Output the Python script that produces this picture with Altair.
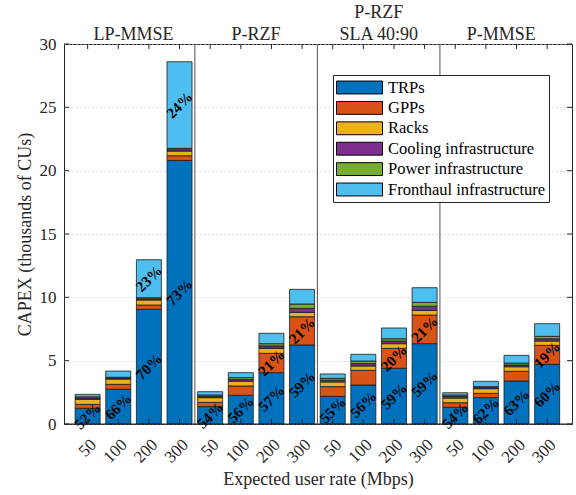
import altair as alt
import pandas as pd

groups_bottom = ["LP-MMSE", "P-RZF", "SLA 40:90", "P-MMSE"]
groups_top = ["P-RZF"]
group_centers = [2.5, 6.5, 10.5, 14.5]
group_top_centers = [10.5]
separators = [4.5, 8.5, 12.5]
rates = ["50", "100", "200", "300"]
components = ["TRPs", "GPPs", "Racks", "Cooling infrastructure",
              "Power infrastructure", "Fronthaul infrastructure"]
colors = ["#0072BD", "#D95319", "#EDB120", "#7E2F8E", "#77AC30", "#4DBEEE"]

# 16 bars: LP-MMSE 50..300, P-RZF 50..300, P-RZF SLA 50..300, P-MMSE 50..300
trps = [1.24, 2.74, 9.05, 20.80, 1.37, 2.26, 4.05, 6.24,
        2.18, 3.08, 4.40, 6.34, 1.32, 2.08, 3.39, 4.71]
gpps = [0.31, 0.39, 0.34, 0.38, 0.34, 0.74, 1.53, 2.23,
        0.77, 1.16, 1.57, 2.26, 0.36, 0.34, 0.77, 1.50]
racks = [0.40, 0.42, 0.40, 0.37, 0.37, 0.37, 0.39, 0.34,
         0.37, 0.34, 0.37, 0.37, 0.37, 0.37, 0.36, 0.34]
cooling = [0.10, 0.07, 0.09, 0.10, 0.10, 0.14, 0.19, 0.32,
           0.14, 0.19, 0.21, 0.32, 0.12, 0.08, 0.14, 0.18]
power = [0.10, 0.07, 0.09, 0.11, 0.11, 0.15, 0.18, 0.34,
         0.14, 0.20, 0.18, 0.31, 0.12, 0.08, 0.15, 0.19]
fronthaul = [0.19, 0.49, 3.00, 6.84, 0.26, 0.39, 0.82, 1.16,
             0.35, 0.53, 0.85, 1.16, 0.18, 0.42, 0.61, 1.00]

trp_pct = [52, 66, 70, 73, 54, 56, 57, 59, 55, 56, 59, 59, 54, 62, 63, 60]
gpp_pct_pos = [7, 8, 11, 12, 16]
gpp_pct = [21, 21, 20, 21, 19]
fh_pct_pos = [3, 4]
fh_pct = [23, 24]

series = [trps, gpps, racks, cooling, power, fronthaul]

rows = []
label_rows = []
for i in range(16):
    pos = i + 1
    start = 0.0
    mids = []
    for ci, comp in enumerate(components):
        v = series[ci][i]
        rows.append({"pos": pos, "component": comp, "order": ci,
                     "start": start, "end": start + v})
        mids.append(start + v / 2)
        start += v
    label_rows.append({"pos": pos, "start": mids[0], "txt": f"{trp_pct[i]}%"})
    if pos in gpp_pct_pos:
        label_rows.append({"pos": pos, "start": mids[1],
                           "txt": f"{gpp_pct[gpp_pct_pos.index(pos)]}%"})
    if pos in fh_pct_pos:
        label_rows.append({"pos": pos, "start": mids[5],
                           "txt": f"{fh_pct[fh_pct_pos.index(pos)]}%"})

df = pd.DataFrame(rows)
labels_df = pd.DataFrame(label_rows)
gb_df = pd.DataFrame({"g": groups_bottom, "pos": group_centers})
gt_df = pd.DataFrame({"g": groups_top, "pos": group_top_centers})
sep_df = pd.DataFrame({"pos": separators, "start": [0] * 3, "end": [30] * 3})
xticks_df = pd.DataFrame({"pos": list(range(1, 17))})
yticks_df = pd.DataFrame({"start": [0, 5, 10, 15, 20, 25, 30]})

FONT = "Liberation Serif"
AX = "#262626"
W, H = 508, 380

xscale = alt.Scale(domain=[0.392, 16.648], nice=False, zero=False)
yscale = alt.Scale(domain=[0, 30], nice=False)

label_expr = f"{rates}[(datum.value - 1) % 4]"

X = alt.X("pos:Q", scale=xscale,
          axis=alt.Axis(values=list(range(1, 17)), labelExpr=label_expr,
                        title="Expected user rate (Mbps)", grid=False,
                        ticks=False, domain=False, labelAngle=-45,
                        labelAlign="right", labelBaseline="top",
                        labelPadding=12, labelFontSize=17,
                        titleFontSize=18, titlePadding=5))
Y = alt.Y("start:Q", scale=yscale,
          axis=alt.Axis(values=[0, 5, 10, 15, 20, 25, 30],
                        title="CAPEX (thousands of CUs)", grid=True,
                        gridDash=[1, 3], gridColor="#bdbdbd",
                        ticks=False, domain=False, labelPadding=8,
                        labelFontSize=17, titleFontSize=18,
                        titlePadding=5))

bars = alt.Chart(df).mark_bar(size=25, stroke="#1a1a1a", strokeWidth=0.8).encode(
    x=X, y=Y,
    y2="end:Q",
    color=alt.Color("component:N",
                    scale=alt.Scale(domain=components, range=colors),
                    sort=components,
                    legend=alt.Legend(
                        title=None, orient="none", legendX=269, legendY=31,
                        direction="vertical",
                        symbolType="M-1,-0.28L1,-0.28L1,0.28L-1,0.28Z",
                        symbolSize=2116, symbolStrokeColor="black",
                        symbolStrokeWidth=1, symbolOpacity=1,
                        labelFont=FONT, labelFontSize=16.5, labelColor="black",
                        labelLimit=300, labelOffset=5, fillColor="white",
                        strokeColor=AX, padding=3, rowPadding=1.4,
                        clipHeight=19)),
    order=alt.Order("order:Q"),
)

seps = alt.Chart(sep_df).mark_rule(color="#505050", strokeWidth=1).encode(
    x=X, y=Y, y2="end:Q")

pct = alt.Chart(labels_df).mark_text(
    angle=315, font=FONT, fontSize=15, fontWeight="bold", color="black",
    align="center", baseline="middle").encode(
    x=X, y=Y, text="txt:N")

gtitles_b = alt.Chart(gb_df).mark_text(
    font=FONT, fontSize=18, color=AX, baseline="alphabetic",
    align="center").encode(x=X, y=alt.value(-4), text="g:N")
gtitles_t = alt.Chart(gt_df).mark_text(
    font=FONT, fontSize=18, color=AX, baseline="alphabetic",
    align="center").encode(x=X, y=alt.value(-26), text="g:N")

xt_bottom = alt.Chart(xticks_df).mark_rule(color=AX).encode(
    x=X, y=alt.value(H), y2=alt.value(H - 5))
xt_top = alt.Chart(xticks_df).mark_rule(color=AX).encode(
    x=X, y=alt.value(0), y2=alt.value(5))
yt_left = alt.Chart(yticks_df).mark_rule(color=AX).encode(
    y=Y, x=alt.value(0), x2=alt.value(5))
yt_right = alt.Chart(yticks_df).mark_rule(color=AX).encode(
    y=Y, x=alt.value(W), x2=alt.value(W - 5))
frame_bottom = alt.Chart(yticks_df.head(1)).mark_rule(color=AX).encode(
    y=Y, x=alt.value(0), x2=alt.value(W))

chart = alt.layer(
    bars, seps, pct, gtitles_b, gtitles_t, frame_bottom,
    xt_bottom, xt_top, yt_left, yt_right
).properties(
    width=W, height=H,
    autosize=alt.AutoSizeParams(type="none"),
    padding={"left": 64, "top": 44, "right": 4, "bottom": 71},
).configure_view(
    stroke=AX, strokeWidth=1
).configure_axis(
    labelFont=FONT, titleFont=FONT, labelColor=AX, titleColor=AX,
    titleFontWeight="normal"
).configure_text(font=FONT)

chart.save("out.html", embed_options={"renderer": "svg", "actions": False})
